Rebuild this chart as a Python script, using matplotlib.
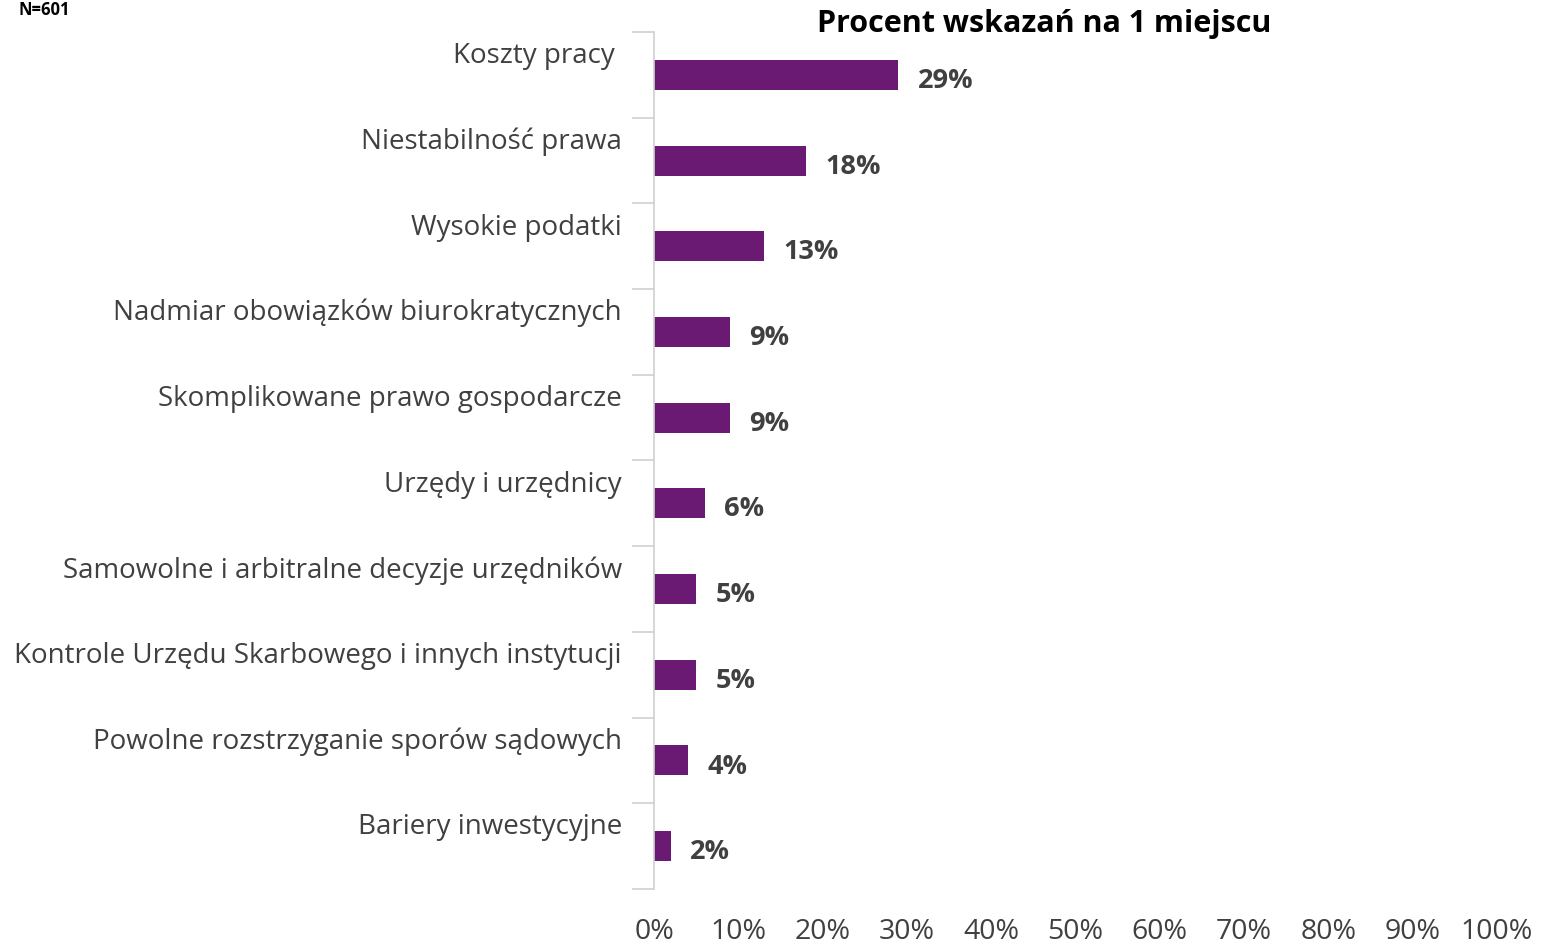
import matplotlib
matplotlib.use('Agg')
import matplotlib.pyplot as plt
from matplotlib.ticker import FuncFormatter

# dane z wykresu
kategorie = ['Koszty pracy ', 'Niestabilność prawa', 'Wysokie podatki',
             'Nadmiar obowiązków biurokratycznych', 'Skomplikowane prawo gospodarcze',
             'Urzędy i urzędnicy', 'Samowolne i arbitralne decyzje urzędników',
             'Kontrole Urzędu Skarbowego i innych instytucji',
             'Powolne rozstrzyganie sporów sądowych', 'Bariery inwestycyjne']
wartosci = [29, 18, 13, 9, 9, 6, 5, 5, 4, 2]
tytul = 'Procent wskazań na 1 miejscu'

plt.rcParams['font.family'] = ['Open Sans', 'DejaVu Sans']
szary = '#404040'
kolor = '#6A1A72'

fig = plt.figure(figsize=(15.52, 9.45), dpi=100)
ax = fig.add_axes([0.4214, 0.0582, 0.5432, 0.9069])

n = len(kategorie)
y = list(range(n))
ax.barh(y, wartosci, height=0.35, color=kolor)
ax.set_ylim(n - 0.5, -0.5)
ax.set_xlim(0, 100)

# etykiety kategorii nad slupkami
for i, k in enumerate(kategorie):
    ax.text(-0.038, i - 0.23, k, transform=ax.get_yaxis_transform(),
            ha='right', va='center', fontsize=20, color=szary)

# etykiety wartosci
for i, v in enumerate(wartosci):
    ax.text(v + 2.3, i + 0.06, f'{v}%', ha='left', va='center',
            fontsize=19.5, fontweight='bold', color=szary)

ax.set_yticks([i - 0.5 for i in range(n + 1)])
ax.set_yticklabels([])
ax.tick_params(axis='y', length=16, color='#d0d0d0', width=1.2)
ax.set_xticks(range(0, 101, 10))
ax.xaxis.set_major_formatter(FuncFormatter(lambda x, p: f'{int(x)}%'))
ax.tick_params(axis='x', length=0, pad=20.5, labelsize=20.5, labelcolor=szary)

for s in ['top', 'right', 'bottom']:
    ax.spines[s].set_visible(False)
ax.spines['left'].set_color('#d0d0d0')
ax.spines['left'].set_linewidth(1.2)

fig.text(0.673, 0.975, tytul, ha='center', va='center', fontsize=22,
         fontweight='bold', color='black')
fig.text(0.012, 0.999, 'N=601', ha='left', va='top', fontsize=12,
         fontweight='bold', color='black')

fig.savefig('out.png', dpi=100)
